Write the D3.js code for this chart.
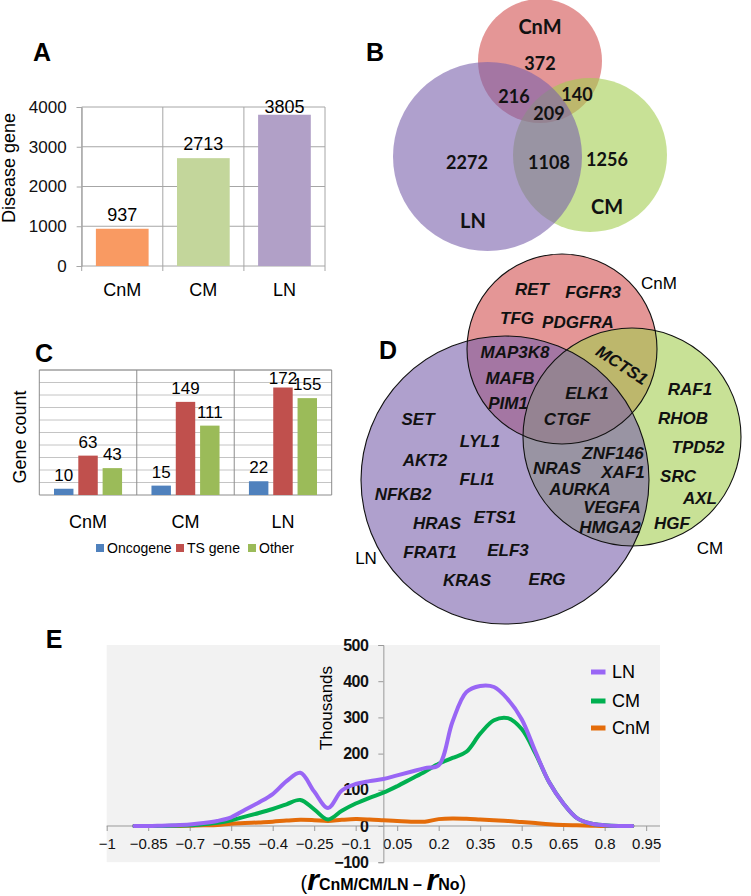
<!DOCTYPE html>
<html>
<head>
<meta charset="utf-8">
<script src="https://cdn.jsdelivr.net/npm/d3@7"></script>
<style>
  body { margin: 0; background: #fff; }
  svg { display: block; font-family: "Liberation Sans", Arial, sans-serif; }
</style>
</head>
<body>
<svg id="fig" width="751" height="896"></svg>
<script>
// ---- data ----
// A: disease genes per group
var groupsA = ["CnM", "CM", "LN"];
var diseaseGenes = [937, 2713, 3805];
var ticksA = [0, 1000, 2000, 3000, 4000];

// B: venn counts
var setNames = ["CnM", "LN", "CM"];
var vennRegions = ["CnM", "CnM+LN", "CnM+CM", "CnM+LN+CM", "LN", "LN+CM", "CM"];
var vennCounts = [372, 216, 140, 209, 2272, 1108, 1256];

// C: gene type counts
var groupsC = ["CnM", "CM", "LN"];
var geneTypes = ["Oncogene", "TS gene", "Other"];
var oncogene = [10, 15, 22];
var tsGene = [63, 149, 172];
var otherGene = [43, 111, 155];

// D: oncogenes per venn region
var genesCnM = ["RET", "FGFR3", "TFG", "PDGFRA"];
var genesCnMLN = ["MAP3K8", "MAFB", "PIM1"];
var genesCnMCM = ["MCTS1"];
var genesAll = ["ELK1", "CTGF"];
var genesLN = ["SET", "LYL1", "AKT2", "FLI1", "NFKB2", "HRAS", "ETS1", "FRAT1", "ELF3", "KRAS", "ERG"];
var genesLNCM = ["ZNF146", "NRAS", "XAF1", "AURKA", "VEGFA", "HMGA2"];
var genesCM = ["RAF1", "RHOB", "TPD52", "SRC", "AXL", "HGF"];

// E: distribution of r differences (thousands)
var rDiff = [-0.9, -0.85, -0.8, -0.75, -0.7, -0.65, -0.6, -0.55, -0.5, -0.45, -0.4, -0.35, -0.3, -0.25, -0.2, -0.15, -0.1, -0.05, 0,
             0.05, 0.1, 0.15, 0.2, 0.25, 0.3, 0.35, 0.4, 0.45, 0.5, 0.55, 0.6, 0.65, 0.7, 0.75, 0.8, 0.85, 0.9];
var lnDens = [0, 0, 1, 2, 4, 8, 14, 24, 45, 65, 88, 124, 147, 95, 50, 98, 116, 124, 130,
              140, 150, 160, 168, 288, 370, 387, 384, 350, 295, 205, 120, 63, 22, 7, 2, 0, 0];
var cmDens = [0, 0, 0, 1, 2, 5, 9, 16, 26, 36, 47, 60, 72, 46, 18, 42, 62, 78, 92,
              110, 130, 150, 172, 188, 205, 255, 292, 298, 268, 200, 120, 63, 22, 7, 2, 0, 0];
var cnmDens = [0, 0, 0, 0, 1, 2, 3, 6, 8, 10, 12, 15, 17, 16, 14, 17, 19, 18, 16,
               14, 12, 12, 19, 21, 20, 18, 16, 14, 11, 8, 5, 3, 2, 1, 0, 0, 0];
var xTicksE = [-1, -0.85, -0.7, -0.55, -0.4, -0.25, -0.1, 0.05, 0.2, 0.35, 0.5, 0.65, 0.8, 0.95];
var yTicksE = [-100, 0, 100, 200, 300, 400, 500];

var svg = d3.select("#fig");

function panelLetter(txt, x, y) {
    svg.append("text").attr("x", x).attr("y", y)
        .attr("font-size", 25).attr("font-weight", "bold")
        .attr("text-anchor", "middle").text(txt);
}

// ================= A =================
(function () {
    var gA = svg.append("g");
    var x = d3.scaleBand().domain(groupsA).range([81.7, 325]).paddingInner(0.35).paddingOuter(0.175);
    var y = d3.scaleLinear().domain([0, 4000]).range([266, 107]);
    var colorsA = ["#F99A62", "#C3D69B", "#B1A0C7"];
    var gridCol = "#a6a6a6";

    gA.selectAll("line.h").data(ticksA.slice(1)).enter().append("line")
        .attr("x1", 81.7).attr("x2", 325).attr("y1", y).attr("y2", y)
        .attr("stroke", gridCol);
    var bounds = [0, 1, 2, 3].map(function (i) { return 81.7 + i * x.step(); });
    gA.selectAll("line.v").data(bounds).enter().append("line")
        .attr("x1", function (d) { return d; }).attr("x2", function (d) { return d; })
        .attr("y1", y(4000)).attr("y2", y(0) + 5).attr("stroke", gridCol);
    gA.append("line").attr("x1", 81.7).attr("x2", 325).attr("y1", y(0)).attr("y2", y(0)).attr("stroke", gridCol);

    var yAxis = d3.axisLeft(y).tickValues(ticksA).tickSize(5).tickPadding(10).tickFormat(d3.format("d"));
    gA.append("g").attr("transform", "translate(81.7,0)").call(yAxis)
        .call(function (g) {
            g.select(".domain").attr("stroke", gridCol);
            g.selectAll(".tick line").attr("stroke", gridCol);
            g.selectAll("text").attr("font-size", 17).attr("fill", "#111").attr("font-family", "Liberation Sans, Arial");
        });

    gA.selectAll("rect").data(diseaseGenes).enter().append("rect")
        .attr("x", function (d, i) { return x(groupsA[i]); })
        .attr("y", function (d) { return y(d); })
        .attr("width", x.bandwidth())
        .attr("height", function (d) { return y(0) - y(d); })
        .attr("fill", function (d, i) { return colorsA[i]; });

    gA.selectAll("text.val").data(diseaseGenes).enter().append("text")
        .attr("x", function (d, i) { return x(groupsA[i]) + x.bandwidth() / 2; })
        .attr("y", function (d) { return Math.max(y(d) - 8, 113); })
        .attr("text-anchor", "middle").attr("font-size", 18).text(function (d) { return d; });

    gA.selectAll("text.cat").data(groupsA).enter().append("text")
        .attr("x", function (d) { return x(d) + x.bandwidth() / 2; })
        .attr("y", 295.5).attr("text-anchor", "middle").attr("font-size", 18).text(function (d) { return d; });

    gA.append("text").attr("transform", "translate(15,168) rotate(-90)")
        .attr("text-anchor", "middle").attr("font-size", 18).text("Disease gene");
    panelLetter("A", 42, 61);
})();

// ================= B =================
(function () {
    var gB = svg.append("g");
    var circles = [
        {cx: 540, cy: 61, r: 62, fill: "rgb(210,80,80)"},
        {cx: 590, cy: 155, r: 77, fill: "rgb(163,205,80)"},
        {cx: 487.5, cy: 156.5, r: 94.5, fill: "rgb(122,97,172)"}
    ];
    gB.selectAll("circle").data(circles).enter().append("circle")
        .attr("cx", function (d) { return d.cx; }).attr("cy", function (d) { return d.cy; })
        .attr("r", function (d) { return d.r; }).attr("fill", function (d) { return d.fill; })
        .attr("fill-opacity", 0.6);

    var pos = [[540, 64], [514, 97], [577, 95], [549, 114], [467, 163], [549, 163], [607, 160]];
    gB.selectAll("text.n").data(vennCounts).enter().append("text")
        .attr("x", function (d, i) { return pos[i][0]; })
        .attr("y", function (d, i) { return pos[i][1]; })
        .attr("dy", "0.35em").attr("text-anchor", "middle")
        .attr("font-family", "Lato, 'Open Sans', sans-serif").attr("font-weight", "bold").attr("font-size", 18)
        .attr("fill", "#111").text(function (d) { return d; });

    var namePos = [[540, 27], [473, 221], [607, 207]];
    gB.selectAll("text.s").data(setNames).enter().append("text")
        .attr("x", function (d, i) { return namePos[i][0]; })
        .attr("y", function (d, i) { return namePos[i][1]; })
        .attr("dy", "0.35em").attr("text-anchor", "middle")
        .attr("font-family", "Lato, 'Open Sans', sans-serif").attr("font-weight", "bold").attr("font-size", 20)
        .attr("fill", "#111").text(function (d) { return d; });
    panelLetter("B", 375, 61);
})();

// ================= C =================
(function () {
    var gC = svg.append("g");
    var x0 = d3.scaleBand().domain(groupsC).range([39.3, 331.7]);
    var x1 = d3.scaleBand().domain(geneTypes).range([14.7, x0.step() - 14.7]).paddingInner(0.2);
    var y = d3.scaleLinear().domain([0, 200]).range([495, 370]);
    var colorsC = ["#4F81BD", "#C0504D", "#9BBB59"];
    var series = [oncogene, tsGene, otherGene];

    gC.selectAll("line.h").data(d3.range(20, 201, 20)).enter().append("line")
        .attr("x1", 39.3).attr("x2", 331.7).attr("y1", y).attr("y2", y)
        .attr("stroke", "#c4c4c4");
    var bounds = [0, 1, 2, 3].map(function (i) { return 39.3 + i * x0.step(); });
    gC.selectAll("line.v").data(bounds).enter().append("line")
        .attr("x1", function (d) { return d; }).attr("x2", function (d) { return d; })
        .attr("y1", y(200)).attr("y2", y(0)).attr("stroke", "#8c8c8c");
    gC.append("line").attr("x1", 39.3).attr("x2", 331.7).attr("y1", y(0)).attr("y2", y(0)).attr("stroke", "#8c8c8c");
    gC.append("line").attr("x1", 39.3).attr("x2", 331.7).attr("y1", y(200)).attr("y2", y(200)).attr("stroke", "#8c8c8c");

    var grp = gC.selectAll("g.grp").data(groupsC).enter().append("g")
        .attr("transform", function (d) { return "translate(" + x0(d) + ",0)"; });
    grp.selectAll("rect").data(function (d, gi) {
        return geneTypes.map(function (t, ti) { return {t: t, v: series[ti][gi], c: colorsC[ti]}; });
    }).enter().append("rect")
        .attr("x", function (d) { return x1(d.t); })
        .attr("y", function (d) { return y(d.v); })
        .attr("width", x1.bandwidth())
        .attr("height", function (d) { return y(0) - y(d.v); })
        .attr("fill", function (d) { return d.c; });
    grp.selectAll("text").data(function (d, gi) {
        return geneTypes.map(function (t, ti) { return {t: t, v: series[ti][gi]}; });
    }).enter().append("text")
        .attr("x", function (d) { return x1(d.t) + x1.bandwidth() / 2; })
        .attr("y", function (d) { return Math.max(y(d.v) - 8, 384); })
        .attr("text-anchor", "middle").attr("font-size", 17).text(function (d) { return d.v; });

    gC.selectAll("text.cat").data(groupsC).enter().append("text")
        .attr("x", function (d) { return x0(d) + x0.bandwidth() / 2; })
        .attr("y", 528).attr("text-anchor", "middle").attr("font-size", 18).text(function (d) { return d; });

    gC.append("text").attr("transform", "translate(26,437) rotate(-90)")
        .attr("text-anchor", "middle").attr("font-size", 18).text("Gene count");

    var legX = [96, 176, 248];
    var leg = gC.selectAll("g.leg").data(geneTypes).enter().append("g")
        .attr("transform", function (d, i) { return "translate(" + legX[i] + ",548)"; });
    leg.append("rect").attr("x", 0).attr("y", -4).attr("width", 8).attr("height", 8)
        .attr("fill", function (d, i) { return colorsC[i]; });
    leg.append("text").attr("x", 11).attr("dy", "0.35em").attr("font-size", 14).text(function (d) { return d; });
    panelLetter("C", 44, 362);
})();

// ================= D =================
(function () {
    var gD = svg.append("g");
    var circles = [
        {cx: 562, cy: 349, r: 95, fill: "rgb(210,80,80)"},
        {cx: 632, cy: 437, r: 109, fill: "rgb(163,205,80)"},
        {cx: 505, cy: 480, r: 144, fill: "rgb(122,97,172)"}
    ];
    gD.selectAll("circle.f").data(circles).enter().append("circle")
        .attr("cx", function (d) { return d.cx; }).attr("cy", function (d) { return d.cy; })
        .attr("r", function (d) { return d.r; }).attr("fill", function (d) { return d.fill; })
        .attr("fill-opacity", 0.6);
    gD.selectAll("circle.o").data(circles).enter().append("circle")
        .attr("cx", function (d) { return d.cx; }).attr("cy", function (d) { return d.cy; })
        .attr("r", function (d) { return d.r; }).attr("fill", "none")
        .attr("stroke", "#111").attr("stroke-width", 1.1);

    var genePos = {
        RET: [532, 289], FGFR3: [593, 292], TFG: [517, 318], PDGFRA: [578, 322],
        MAP3K8: [515, 352], MAFB: [510, 378], PIM1: [508, 403],
        MCTS1: [622, 365], ELK1: [587, 393], CTGF: [567, 419],
        SET: [418, 419], LYL1: [480, 441], AKT2: [425, 460], FLI1: [477, 479], NFKB2: [403, 494],
        HRAS: [437, 523], ETS1: [495, 517], FRAT1: [430, 552], ELF3: [508, 550], KRAS: [467, 580], ERG: [547, 579],
        ZNF146: [613, 453], NRAS: [557, 468], XAF1: [623, 472], AURKA: [580, 489], VEGFA: [612, 507], HMGA2: [610, 527],
        RAF1: [690, 389], RHOB: [683, 418], TPD52: [698, 447], SRC: [678, 476], AXL: [700, 498], HGF: [672, 523]
    };
    var allGenes = [].concat(genesCnM, genesCnMLN, genesCnMCM, genesAll, genesLN, genesLNCM, genesCM);
    gD.selectAll("text.g").data(allGenes).enter().append("text")
        .attr("transform", function (d) {
            var p = genePos[d];
            return "translate(" + p[0] + "," + p[1] + ")" + (d === "MCTS1" ? " rotate(33)" : "");
        })
        .attr("dy", "0.35em").attr("text-anchor", "middle")
        .attr("font-size", 17).attr("font-weight", "bold").attr("font-style", "italic")
        .attr("fill", "#111").text(function (d) { return d; });

    var lab = [["CnM", 659, 283], ["CM", 710, 548], ["LN", 366, 558]];
    gD.selectAll("text.s").data(lab).enter().append("text")
        .attr("x", function (d) { return d[1]; }).attr("y", function (d) { return d[2]; })
        .attr("dy", "0.35em").attr("text-anchor", "middle").attr("font-size", 17)
        .text(function (d) { return d[0]; });
    panelLetter("D", 388, 359);
})();

// ================= E =================
(function () {
    var gE = svg.append("g");
    var x = d3.scaleLinear().domain([-1, 1]).range([106.7, 660]);
    var y = d3.scaleLinear().domain([-100, 500]).range([862.2, 645]);
    var axisCol = "#999";

    gE.append("rect").attr("x", x(-1)).attr("y", y(500))
        .attr("width", x(1) - x(-1)).attr("height", y(-100) - y(500)).attr("fill", "#f2f2f2");

    var xAxis = d3.axisBottom(x).tickValues(xTicksE).tickSize(5).tickPadding(7)
        .tickFormat(function (d) { return d3.format("")(+d.toFixed(2)); });
    gE.append("g").attr("transform", "translate(0," + y(0) + ")").call(xAxis)
        .call(function (g) {
            g.select(".domain").attr("stroke", axisCol).attr("d", "M" + x(-1) + ",0H" + x(1));
            g.selectAll(".tick line").attr("stroke", axisCol);
            g.selectAll("text").attr("font-size", 15).attr("fill", "#111")
                .attr("font-family", "Liberation Sans, Arial");
        });

    var yAxis = d3.axisLeft(y).tickValues(yTicksE).tickSize(5).tickPadding(10);
    gE.append("g").attr("transform", "translate(" + x(0) + ",0)").call(yAxis)
        .call(function (g) {
            g.select(".domain").attr("stroke", axisCol);
            g.selectAll(".tick line").attr("stroke", axisCol);
            g.selectAll("text").attr("font-size", 16).attr("font-weight", "bold").attr("fill", "#111")
                .attr("font-family", "Liberation Sans, Arial").attr("letter-spacing", -0.5);
        });

    gE.append("text").attr("transform", "translate(326,708) rotate(-90)")
        .attr("text-anchor", "middle").attr("dy", "0.35em").attr("font-size", 17).text("Thousands");

    var line = d3.line().curve(d3.curveCatmullRom.alpha(0.5))
        .x(function (d, i) { return x(rDiff[i]); })
        .y(function (d) { return y(d); });
    var seriesE = [
        {name: "CnM", vals: cnmDens, col: "#E46C0A"},
        {name: "CM", vals: cmDens, col: "#00B050"},
        {name: "LN", vals: lnDens, col: "#9966F5"}
    ];
    gE.selectAll("path.s").data(seriesE).enter().append("path")
        .attr("d", function (d) { return line(d.vals); })
        .attr("fill", "none").attr("stroke", function (d) { return d.col; })
        .attr("stroke-width", 4).attr("stroke-linejoin", "round").attr("stroke-linecap", "round");

    var legY = [672, 701, 728];
    var leg = gE.selectAll("g.leg").data(seriesE.slice().reverse()).enter().append("g")
        .attr("transform", function (d, i) { return "translate(591," + legY[i] + ")"; });
    leg.append("rect").attr("x", 0).attr("y", -2.5).attr("width", 14.5).attr("height", 5)
        .attr("fill", function (d) { return d.col; });
    leg.append("text").attr("x", 21).attr("dy", "0.35em").attr("font-size", 18).text(function (d) { return d.name; });

    var t = gE.append("text").attr("x", x(0)).attr("y", 890).attr("text-anchor", "middle");
    t.append("tspan").attr("font-size", 20).text("(");
    t.append("tspan").attr("font-size", 30).attr("font-weight", "bold").attr("font-style", "italic").text("r");
    t.append("tspan").attr("font-size", 16).attr("font-weight", "bold").text("CnM/CM/LN \u2013 ");
    t.append("tspan").attr("font-size", 30).attr("font-weight", "bold").attr("font-style", "italic").text("r");
    t.append("tspan").attr("font-size", 16).attr("font-weight", "bold").text("No");
    t.append("tspan").attr("font-size", 20).text(")");
    panelLetter("E", 54, 648);
})();
</script>
</body>
</html>
